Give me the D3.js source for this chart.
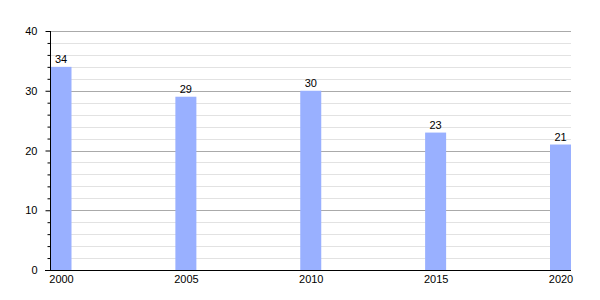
<!DOCTYPE html>
<html><head><meta charset="utf-8">
<script src="https://cdn.jsdelivr.net/npm/d3@7"></script>
<style>body{margin:0;background:#fff}svg{display:block}text{font-family:"Liberation Sans",Arial,sans-serif}</style>
</head><body>
<svg id="c" width="600" height="300"></svg>
<script>
const years = [2000, 2005, 2010, 2015, 2020];
const values = [34, 29, 30, 23, 21];
const majorTicks = [0, 10, 20, 30, 40];
const minorTicks = d3.range(0, 41, 2);

(function () {
const svg = d3.select("#c");
const mLeft = 50, mRight = 571, mTop = 31, mBottom = 270;
const x = d3.scaleLinear().domain([2000, 2020]).range([61, 560.5]);
const y = d3.scaleLinear().domain([0, 40]).range([mBottom, mTop]);
const bw = 21;

// minor grid
svg.append("g").selectAll("line").data(minorTicks.filter(d => d % 10 !== 0)).join("line")
  .attr("x1", mLeft).attr("x2", mRight).attr("y1", d => Math.round(y(d)) + 0.5).attr("y2", d => Math.round(y(d)) + 0.5)
  .attr("stroke", "#e2e2e2").attr("stroke-width", 1);
// major grid
svg.append("g").selectAll("line").data(majorTicks.filter(d => d > 0)).join("line")
  .attr("x1", mLeft).attr("x2", mRight).attr("y1", d => Math.round(y(d)) + 0.5).attr("y2", d => Math.round(y(d)) + 0.5)
  .attr("stroke", "#aaaaaa").attr("stroke-width", 1);

// bars
svg.append("g").selectAll("rect").data(years).join("rect")
  .attr("x", (d) => x(d) - bw / 2).attr("width", bw)
  .attr("y", (d, i) => y(values[i])).attr("height", (d, i) => mBottom - y(values[i]))
  .attr("fill", "#99b0ff");

// value labels
svg.append("g").selectAll("text").data(years).join("text")
  .attr("x", d => x(d)).attr("y", (d, i) => y(values[i]) - 4)
  .attr("text-anchor", "middle").attr("font-size", 11).attr("fill", "#000")
  .text((d, i) => values[i]);

// y axis
const yAxis = d3.axisLeft(y).tickValues(majorTicks).tickSize(5).tickPadding(8).tickFormat(d3.format("d"));
const ga = svg.append("g").attr("transform", `translate(${mLeft + 0.5},0)`).call(yAxis);
ga.select(".domain").attr("stroke", "#000").attr("d", `M0,${mTop}V${mBottom}`);
ga.selectAll(".tick text").attr("font-size", 11).attr("font-family", "Liberation Sans, Arial, sans-serif");
const yMinor = d3.axisLeft(y).tickValues(minorTicks.filter(d => d % 10 !== 0)).tickSize(3).tickFormat("");
const gm = svg.append("g").attr("transform", `translate(${mLeft + 0.5},0)`).call(yMinor);
gm.select(".domain").remove();

// x axis
const xAxis = d3.axisBottom(x).tickValues(years).tickSize(0).tickPadding(5).tickFormat(d3.format("d"));
const gx = svg.append("g").attr("transform", `translate(0,${mBottom + 0.5})`).call(xAxis);
gx.select(".domain").attr("stroke", "#000").attr("d", `M${mLeft - 5},0H${mRight}`);
gx.selectAll(".tick text").attr("font-size", 11).attr("font-family", "Liberation Sans, Arial, sans-serif");
})();
</script>
</body></html>
